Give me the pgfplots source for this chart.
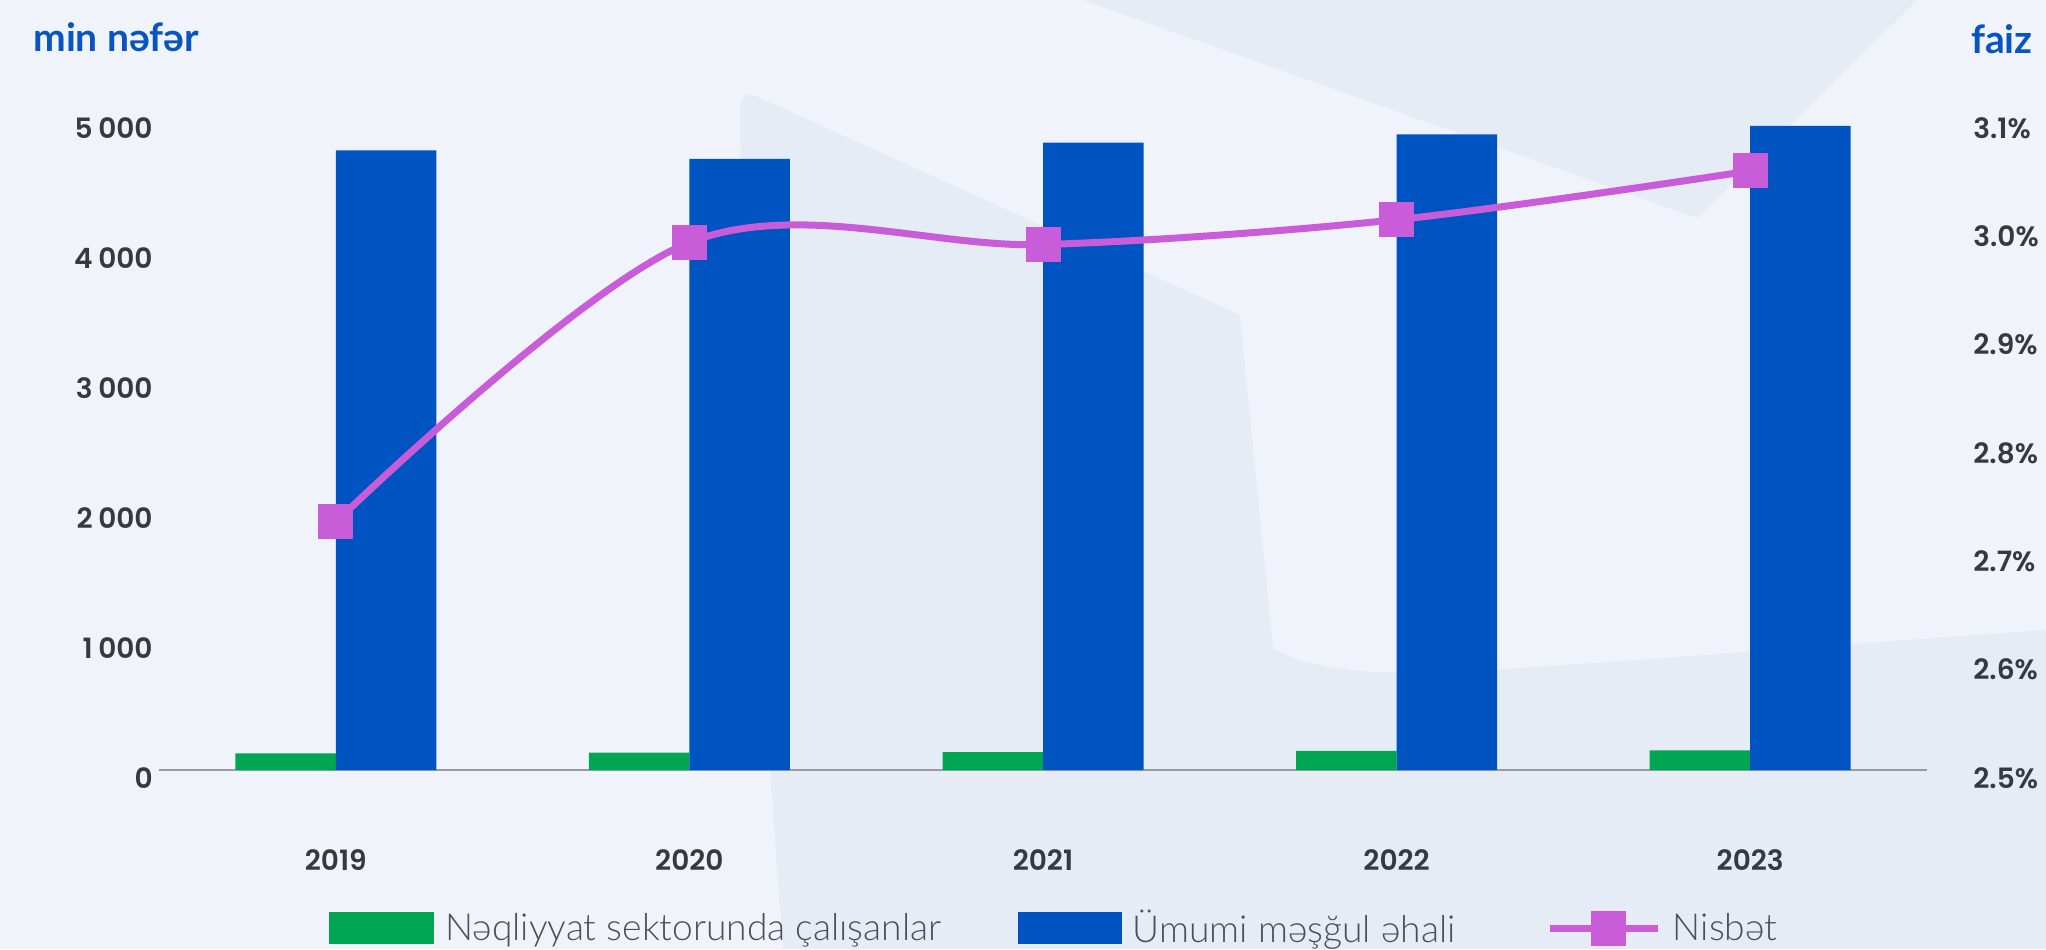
\documentclass[border=0pt]{standalone}
\usepackage{pgfplots}
\pgfplotsset{compat=1.18}
\usepackage{fontspec}
\setmainfont{Lato}
\newfontfamily\numfont{Poppins}[BoldFont={Poppins SemiBold}]
\newfontfamily\legfont{Lato Light}
\definecolor{bgl}{RGB}{240,244,250}
\definecolor{bgd}{RGB}{229,236,246}
\definecolor{cgreen}{RGB}{0,166,81}
\definecolor{cblue}{RGB}{0,84,193}
\definecolor{cpurp}{RGB}{201,92,217}
\definecolor{ctitle}{RGB}{8,84,192}
\definecolor{ctext}{RGB}{52,58,64}
\definecolor{cleg}{RGB}{75,80,86}
\definecolor{cbase}{RGB}{150,156,162}
\begin{document}
\begin{tikzpicture}
\fill[bgl] (0,0) rectangle (1023pt,-474.5pt);
% decorative background shapes
\fill[bgd] (391.6pt,-474.5pt) .. controls (378pt,-300pt) and (370pt,-120pt) .. (370pt,-55pt)
  .. controls (370pt,-47pt) and (374pt,-46pt) .. (380pt,-49pt)
  -- (620pt,-157.5pt) -- (636.5pt,-324pt)
  .. controls (660pt,-338pt) and (700pt,-338pt) .. (760pt,-334pt)
  .. controls (850pt,-328pt) and (950pt,-320pt) .. (1023pt,-315pt)
  -- (1023pt,-474.5pt) -- cycle;
\fill[bgd] (541.5pt,0pt) -- (848.5pt,-109pt) -- (958.5pt,0pt) -- cycle;
% unit titles
\node[anchor=mid west, inner sep=0pt, text=ctitle, font=\bfseries\fontsize{19.5}{22}\selectfont] at (16.5pt,-23pt) {min nəfər};
\node[anchor=mid east, inner sep=0pt, text=ctitle, font=\bfseries\fontsize{19.5}{22}\selectfont] at (1016.5pt,-24pt) {faiz};

\begin{axis}[
  at={(79.5pt,-385pt)}, anchor=south west,
  scale only axis, width=884pt, height=325pt,
  xmin=-0.5, xmax=4.5, ymin=0, ymax=5000,
  axis x line*=bottom, axis y line*=left,
  x axis line style={-, draw=cbase, line width=1.2pt},
  y axis line style={draw=none},
  xtick={0,1,2,3,4},
  xticklabels={2019,2020,2021,2022,2023},
  xtick style={draw=none}, ytick style={draw=none},
  xticklabel style={anchor=center, yshift=-41pt, text=ctext, font=\numfont\bfseries\fontsize{14}{16}\selectfont},
  ytick={0,1000,2000,3000,4000,5000},
  yticklabels={0,{1\hspace{0.2em}000},{2\hspace{0.2em}000},{3\hspace{0.2em}000},{4\hspace{0.2em}000},{5\hspace{0.2em}000}},
  yticklabel style={anchor=east, inner sep=0pt, xshift=-3pt, yshift=-4pt, text=ctext, font=\numfont\bfseries\fontsize{14}{16}\selectfont},
  ybar, bar width=50.25pt,
  clip=false,
]
\addplot[ybar, bar shift=-25.125pt, fill=cgreen, draw=none] coordinates {(0,128) (1,134) (2,138) (3,147) (4,151)};
\addplot[ybar, bar shift=25.125pt, fill=cblue, draw=none] coordinates {(0,4767) (1,4701) (2,4826) (3,4889) (4,4955)};
\end{axis}

\begin{axis}[
  at={(79.5pt,-385pt)}, anchor=south west,
  scale only axis, width=884pt, height=325pt,
  xmin=-0.5, xmax=4.5, ymin=2.5, ymax=3.1,
  axis x line=none, axis y line*=right,
  y axis line style={draw=none},
  ytick style={draw=none},
  ytick={2.5,2.6,2.7,2.8,2.9,3.0,3.1},
  yticklabels={{2.5\%},{2.6\%},{2.7\%},{2.8\%},{2.9\%},{3.0\%},{3.1\%}},
  yticklabel style={anchor=west, inner sep=0pt, xshift=23pt, yshift=-4pt, text=ctext, font=\numfont\bfseries\fontsize{14}{16}\selectfont},
  clip=false,
  legend columns=3,
  legend cell align=left,
  legend style={at={(0.09615,-0.2431)}, anchor=west, draw=none, fill=none, inner sep=0pt,
    nodes={inner sep=0pt, text=cleg, font=\legfont\fontsize{18.6}{21}\selectfont},
    /tikz/every odd column/.append style={column sep=5.5pt}},
]
\addlegendimage{legend image code/.code={\fill[cgreen] (0pt,-7.75pt) rectangle (52pt,7.75pt);}}
\addlegendentry{\makebox[286.5pt][l]{Nəqliyyat sektorunda çalışanlar}}
\addlegendimage{legend image code/.code={\fill[cblue] (0pt,-7.75pt) rectangle (51.5pt,7.75pt);}}
\addlegendentry{\makebox[207pt][l]{Ümumi məşğul əhali}}
\addplot[cpurp, line width=3.5pt, smooth, tension=0.55, mark=square*, mark size=7pt,
  mark options={solid, draw=none, fill=cpurp},
  legend image code/.code={\draw[cpurp, line width=3.5pt] (0pt,0pt) -- (54pt,0pt); \fill[cpurp] (22pt,-7pt) rectangle (36pt,7pt);}]
  coordinates {(0,2.729) (1,2.987) (2,2.985) (3,3.008) (4,3.053)};
\addlegendentry{Nisbət}
\end{axis}
\end{tikzpicture}
\end{document}
